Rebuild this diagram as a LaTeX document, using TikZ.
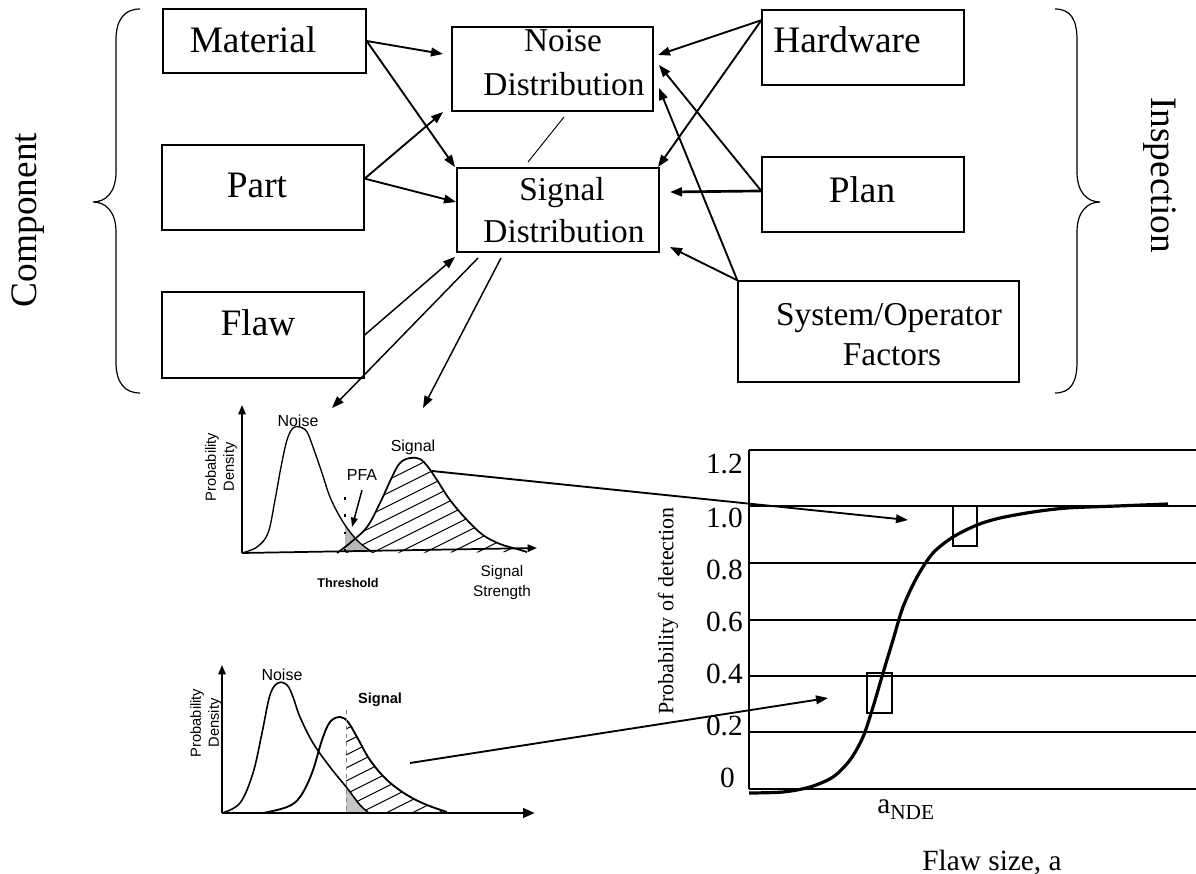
\documentclass[tikz,border=0pt]{standalone}
\usepackage{fontspec}
\setmainfont{Liberation Serif}
\newfontfamily\helv{Liberation Sans}
\usetikzlibrary{arrows.meta,calc}
\begin{document}
\begin{tikzpicture}[x=0.75pt,y=-0.75pt,
  box/.style={draw, line width=1pt, inner sep=0pt},
  bigtxt/.style={font=\rmfamily\fontsize{28}{33}\selectfont, anchor=base, inner sep=0pt},
  midtxt/.style={font=\rmfamily\fontsize{25}{30}\selectfont, anchor=base, inner sep=0pt},
  arr/.style={line width=1.4pt, -{Triangle[length=9pt,width=6.5pt]}},
  thinarr/.style={line width=1.1pt, -{Triangle[length=9pt,width=6.5pt]}},
  axarr/.style={line width=1.3pt, -{Triangle[length=7pt,width=5.5pt]}},
  curve/.style={line width=1pt},
  hatch/.style={line width=0.8pt},
  helvlab/.style={font=\helv\fontsize{12}{14}\selectfont, inner sep=0pt},
  tick/.style={font=\rmfamily\fontsize{22}{26}\selectfont, inner sep=0pt},
  grid/.style={line width=1.1pt}]
\useasboundingbox (0,0) rectangle (1196,874);

% ---------- boxes ----------
\node[box, minimum width=152.25pt, minimum height=48pt] (mat) at (264.5,41) {};
\node[box, minimum width=151.5pt, minimum height=63.75pt] (par) at (263,187.5) {};
\node[box, minimum width=151.5pt, minimum height=64.5pt] (fla) at (263,335) {};
\node[box, minimum width=150.75pt, minimum height=63pt] (noi) at (552.5,69) {};
\node[box, minimum width=151.5pt, minimum height=63pt] (sig) at (558,210) {};
\node[box, minimum width=151.5pt, minimum height=56.25pt] (har) at (863,47.5) {};
\node[box, minimum width=151.5pt, minimum height=56.25pt] (pla) at (863,194.5) {};
\node[box, minimum width=210.75pt, minimum height=75.75pt] (sys) at (878.5,331.5) {};

% ---------- box texts ----------
\node[bigtxt] (matT) at (253,53) {Material};
\node[bigtxt] (parT) at (257,197) {Part};
\node[bigtxt] (flaT) at (258,335) {Flaw};
\node[bigtxt] (harT) at (847,53) {Hardware};
\node[bigtxt] (plaT) at (862,202) {Plan};
\node[midtxt] (noiT1) at (563,52) {Noise};
\node[midtxt] (noiT2) at (564,95) {Distribution};
\node[midtxt] (sigT1) at (562,200) {Signal};
\node[midtxt] (sigT2) at (564,242) {Distribution};
\node[midtxt] (sysT1) at (889,325) {System/Operator};
\node[midtxt] (sysT2) at (892,365) {Factors};

\node[rotate=90, font=\rmfamily\fontsize{28}{33}\selectfont] (comp) at (28,220) {Component};
\node[rotate=-90, font=\rmfamily\fontsize{28}{33}\selectfont] (insp) at (1160,175) {Inspection};

% ---------- braces ----------
\draw[line width=0.9pt] (140,9) .. controls (124,9) and (116,20) .. (116,40) -- (116,172)
  .. controls (116,192) and (106,202) .. (93,202) .. controls (106,202) and (116,212) .. (116,232)
  -- (116,362) .. controls (116,382) and (124,393) .. (140,393);
\draw[line width=0.9pt] (1055,9) .. controls (1071,9) and (1077,20) .. (1077,40) -- (1077,172)
  .. controls (1077,192) and (1087,202) .. (1100,202) .. controls (1087,202) and (1077,212) .. (1077,232)
  -- (1077,362) .. controls (1077,382) and (1071,393) .. (1055,393);

% ---------- connector end points ----------
\coordinate (eMN) at (443,54);
\coordinate (eMS) at (455,167);
\coordinate (ePN) at (443,112);
\coordinate (ePS) at (456,202);
\coordinate (eFS) at (455,257);
\coordinate (eHN) at (658,55);
\coordinate (eHS) at (658,167);
\coordinate (eLN) at (659,65);
\coordinate (eLS) at (670,192);
\coordinate (eSN) at (659,88);
\coordinate (eSS) at (670,247);
\coordinate (lnA) at (564,117);
\coordinate (lnB) at (528,162);
\coordinate (sd1) at (478,258);
\coordinate (sd2) at (501,258);
\coordinate (dn1) at (332,408);
\coordinate (dn2) at (423,408);

\draw[arr] (mat.east) -- (eMN);
\draw[arr] (mat.east) -- (eMS);
\draw[arr] (par.5) -- (ePN);
\draw[arr] (par.5) -- (ePS);
\draw[thinarr] (fla.east) -- (eFS);
\draw[arr] (har.165) -- (eHN);
\draw[arr] (har.165) -- (eHS);
\draw[arr] (pla.178) -- (eLN);
\draw[line width=2pt, -{Triangle[length=9pt,width=6.5pt]}] (pla.178) -- (eLS);
\draw[arr] (sys.north west) -- (eSN);
\draw[arr] (sys.north west) -- (eSS);
\draw[line width=0.7pt] (lnA) -- (lnB);
\draw[thinarr] (sd1) -- (dn1);
\draw[thinarr] (sd2) -- (dn2);

% ---------- upper density plot ----------
\coordinate (uo) at (242,553);
\coordinate (uy) at (242,405);
\coordinate (ux) at (537,548);
\begin{scope}
  \clip plot[smooth, tension=0.6] coordinates {(337,553) (350,543) (367,527) (380,503) (392,477) (400,463) (410,458) (420,459) (428,467) (437,480) (450,500) (467,520) (483,535) (500,544) (517,549) (527,552)} -- cycle;
  \foreach \c in {420,433,...,700} \draw[hatch] (300,\c) -- ++(260,-130);
\end{scope}
\begin{scope}
  \clip (345,400) rectangle (400,560);
  \fill[gray!55] plot[smooth, tension=0.6] coordinates {(242,553) (257,547) (268,533) (275,500) (281,467) (287,440) (293,428) (300,427) (307,432) (313,447) (322,473) (330,497) (340,517) (350,532) (360,543) (372,552)} -- cycle;
\end{scope}
\draw[curve] plot[smooth, tension=0.6] coordinates {(242,553) (257,547) (268,533) (275,500) (281,467) (287,440) (293,428) (300,427) (307,432) (313,447) (322,473) (330,497) (340,517) (350,532) (360,543) (372,552)};
\draw[curve, line width=1.3pt] plot[smooth, tension=0.6] coordinates {(337,553) (350,543) (367,527) (380,503) (392,477) (400,463) (410,458) (420,459) (428,467) (437,480) (450,500) (467,520) (483,535) (500,544) (517,549) (527,552)};
\draw[axarr] (uo) -- (uy);
\draw[axarr] (uo) -- (ux);
\draw[line width=1.2pt, dash pattern=on 2pt off 11pt] (345,497) -- (345,553);

\node[helvlab] (pfa) at (362,475) {PFA};
\coordinate (pfaTip) at (352,527);
\draw[line width=1.1pt, -{Triangle[length=7pt,width=5pt]}] ([yshift=-7pt]pfa.south) -- (pfaTip);
\node[helvlab] (uNoise) at (298,421) {Noise};
\node[helvlab] (uSignal) at (413,447) {Signal};
\node[font=\helv\fontsize{11}{13.5}\selectfont, rotate=90, align=center, inner sep=0pt] (uPD) at (221,467) {Probability\\Density};
\node[font=\helv\bfseries\fontsize{9.5}{11}\selectfont, inner sep=0pt] (uThr) at (348,583) {Threshold};
\node[font=\helv\fontsize{11.5}{15}\selectfont, align=center, inner sep=0pt] (uSS) at (502,583) {Signal\\Strength};

% ---------- lower density plot ----------
\coordinate (lo) at (222,813);
\coordinate (ly) at (222,665);
\coordinate (lx) at (535,813);
\begin{scope}
  \clip (346,690) rectangle (470,815);
  \clip plot[smooth, tension=0.6] coordinates {(263,813) (287,807) (300,797) (312,773) (322,740) (330,722) (340,717) (348,722) (357,737) (370,760) (387,780) (407,795) (427,805) (447,812)} -- cycle;
  \foreach \c in {700,713,...,960} \draw[hatch] (300,\c) -- ++(260,-130);
\end{scope}
\begin{scope}
  \clip (346,690) rectangle (400,815);
  \fill[gray!45] plot[smooth, tension=0.6] coordinates {(222,813) (240,803) (253,773) (262,733) (270,695) (278,683) (287,685) (293,697) (300,717) (313,743) (330,767) (347,788) (360,805) (368,812)} -- cycle;
\end{scope}
\draw[curve, line width=1.2pt] plot[smooth, tension=0.6] coordinates {(222,813) (240,803) (253,773) (262,733) (270,695) (278,683) (287,685) (293,697) (300,717) (313,743) (330,767) (347,788) (360,805) (368,812)};
\draw[curve, line width=1.4pt] plot[smooth, tension=0.6] coordinates {(263,813) (287,807) (300,797) (312,773) (322,740) (330,722) (340,717) (348,722) (357,737) (370,760) (387,780) (407,795) (427,805) (447,812)};
\draw[gray, line width=0.7pt, dashed] (346,710) -- (346,813);
\draw[axarr] (lo) -- (ly);
\draw[line width=2.2pt, -{Triangle[length=9pt,width=7pt]}] (lo) -- (lx);
\node[helvlab] (lNoise) at (282,675) {Noise};
\node[font=\helv\bfseries\fontsize{11}{13}\selectfont, inner sep=0pt] (lSignal) at (380,700) {Signal};
\node[font=\helv\fontsize{11}{13.5}\selectfont, rotate=90, align=center, inner sep=0pt] (lPD) at (206,723) {Probability\\Density};

% ---------- arrows to POD chart ----------
\coordinate (pk1) at (432,471);
\coordinate (ch1) at (908,520);
\coordinate (pk2) at (410,763);
\coordinate (ch2) at (828,698);
\draw[arr] (pk1) -- (ch1);
\draw[arr] (pk2) -- (ch2);

% ---------- POD chart ----------
\foreach \yy in {450,506,563,620,676,732,789} \draw[grid] (749,\yy) -- (1196,\yy);
\draw[grid] (749,450) -- (749,789);
\node[tick, anchor=base east] (t12) at (743,473) {1.2};
\node[tick, anchor=base east] (t10) at (743,527) {1.0};
\node[tick, anchor=base east] (t08) at (743,579) {0.8};
\node[tick, anchor=base east] (t06) at (743,631) {0.6};
\node[tick, anchor=base east] (t04) at (743,683) {0.4};
\node[tick, anchor=base east] (t02) at (743,735) {0.2};
\node[tick, anchor=base east] (t00) at (735,787) {0};
\draw[line width=2.4pt] plot[smooth] coordinates {(749,793) (783,792) (810,787) (833,777) (850,760) (863,737) (873,707) (883,673) (893,640) (903,607) (917,577) (933,553) (953,537) (977,525) (1000,518) (1033,512) (1067,508) (1117,506) (1168,504)};
\draw[line width=0.8pt] (867,673) rectangle (892,713);
\draw[line width=0.8pt] (953,506) rectangle (977,546);
\node[rotate=90, font=\rmfamily\fontsize{16.5}{19}\selectfont, inner sep=0pt] (pod) at (668,611) {Probability of detection};
\node[tick, anchor=base west] (ande) at (877,813) {a\raisebox{-5pt}{\fontsize{16}{16}\selectfont NDE}};
\node[tick, anchor=base] (fsz) at (992,870) {Flaw size, a};
\end{tikzpicture}
\end{document}
